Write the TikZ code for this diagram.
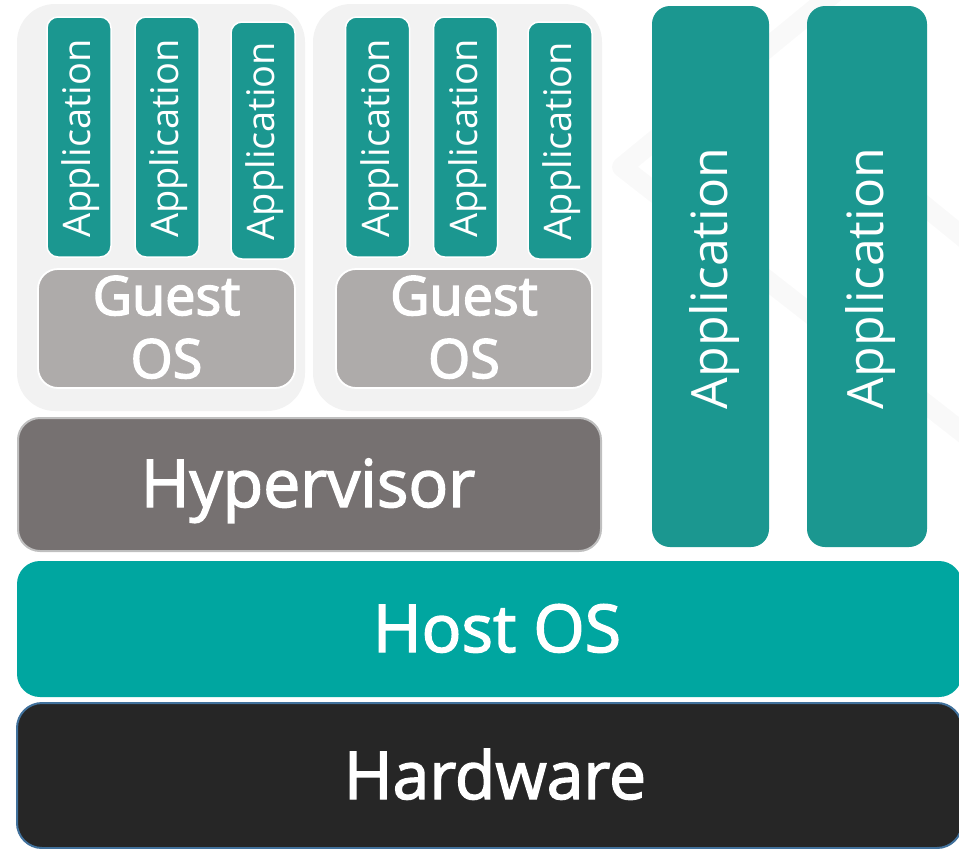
\documentclass[tikz,border=0pt]{standalone}
\usepackage{fontspec}
\setmainfont{Open Sans}
\newfontface\semiface[FakeBold=2.2]{Open Sans}
\newfontface\guestface[FakeBold=2.8]{Open Sans}
\definecolor{vmgray}{HTML}{F2F2F2}
\definecolor{appteal}{HTML}{1B9790}
\definecolor{hostteal}{HTML}{00A6A0}
\definecolor{guestgray}{HTML}{AEABAA}
\definecolor{hypergray}{HTML}{767171}
\definecolor{hyperborder}{HTML}{BFBFBF}
\definecolor{hwblack}{HTML}{262626}
\definecolor{hwborder}{HTML}{41719C}
\definecolor{wmgray}{HTML}{F9F9F9}
\begin{document}
\begin{tikzpicture}[x=1pt,y=-1pt,
  every node/.style={inner sep=0pt,outer sep=0pt},
  vmbox/.style={fill=vmgray,rounded corners=38pt,minimum width=288pt,minimum height=407pt},
  appsmall/.style={fill=appteal,draw=white,line width=1.5pt,rounded corners=11pt,minimum height=64pt},
  appbig/.style={fill=appteal,rounded corners=18pt,minimum height=#1,minimum width=541pt},
  guestbox/.style={fill=guestgray,draw=white,line width=1.8pt,rounded corners=20pt,minimum height=119pt},
  hyperbox/.style={fill=hypergray,draw=hyperborder,line width=2pt,rounded corners=22pt},
  hostbox/.style={fill=hostteal,rounded corners=23pt},
  hwbox/.style={fill=hwblack,draw=hwborder,line width=2pt,rounded corners=25pt},
  smalltxt/.style={text=white,font=\fontsize{38}{38}\selectfont,rotate=90,anchor=base},
  bigapptxt/.style={text=white,font=\fontsize{50}{50}\selectfont,rotate=90,anchor=base},
  guesttxt/.style={text=white,font=\guestface\fontsize{54}{54}\selectfont,anchor=base},
  layertxt/.style={text=white,font=\semiface\fontsize{66}{66}\selectfont,anchor=base},
  watermark/.style={draw=wmgray,line width=20pt,line join=round,line cap=round}
]
\useasboundingbox (0,0) rectangle (959,849);
% faint background mark
\draw[watermark] (850,-20) -- (622,167) -- (985,450);
\draw[watermark] (905,190) -- (985,255);
% virtual machine containers
\node[vmbox] (vm1) at (161,207.5) {};
\node[vmbox,minimum width=289pt] (vm2) at (457.5,207.5) {};
% applications inside VMs
\node[appsmall,rotate=90,minimum width=240pt] (a1) at (79,137) {};
\node[appsmall,rotate=90,minimum width=240pt] (a2) at (167,137) {};
\node[appsmall,rotate=90,minimum width=237pt] (a3) at (263,140.5) {};
\node[appsmall,rotate=90,minimum width=240pt] (a4) at (377.5,137) {};
\node[appsmall,rotate=90,minimum width=240pt] (a5) at (465.5,137) {};
\node[appsmall,rotate=90,minimum width=237pt] (a6) at (560,140.5) {};
\node[smalltxt] (t1) at (90,138.5) {Application};
\node[smalltxt] (t2) at (178,138.5) {Application};
\node[smalltxt] (t3) at (274,141) {Application};
\node[smalltxt] (t4) at (389,138.5) {Application};
\node[smalltxt] (t5) at (477,138.5) {Application};
\node[smalltxt] (t6) at (571,141) {Application};
% guest OS
\node[guestbox,minimum width=257pt] (g1) at (166.5,328.5) {};
\node[guestbox,minimum width=256pt] (g2) at (464,328.5) {};
\node[guesttxt] (g1a) at (166.5,315) {Guest};
\node[guesttxt] (g1b) at (166.5,378) {OS};
\node[guesttxt] (g2a) at (464,315) {Guest};
\node[guesttxt] (g2b) at (464,378) {OS};
% hypervisor
\node[hyperbox,minimum width=583pt,minimum height=133pt] (hyp) at (309.5,484.5) {};
\node[layertxt] (hypt) at (308,507) {Hypervisor};
% native applications
\node[appbig=117pt,rotate=90] (a7) at (710.5,276.5) {};
\node[appbig=120pt,rotate=90] (a8) at (867,276.5) {};
\node[bigapptxt] (t7) at (727,278.5) {Application};
\node[bigapptxt] (t8) at (883,278.5) {Application};
% host OS and hardware
\node[hostbox,minimum width=945pt,minimum height=136pt] (host) at (489.5,629) {};
\node[layertxt] (hostt) at (497,652) {Host OS};
\node[hwbox,minimum width=945pt,minimum height=145pt] (hw) at (489.5,775.5) {};
\node[layertxt] (hwt) at (495,799) {Hardware};
\end{tikzpicture}
\end{document}
